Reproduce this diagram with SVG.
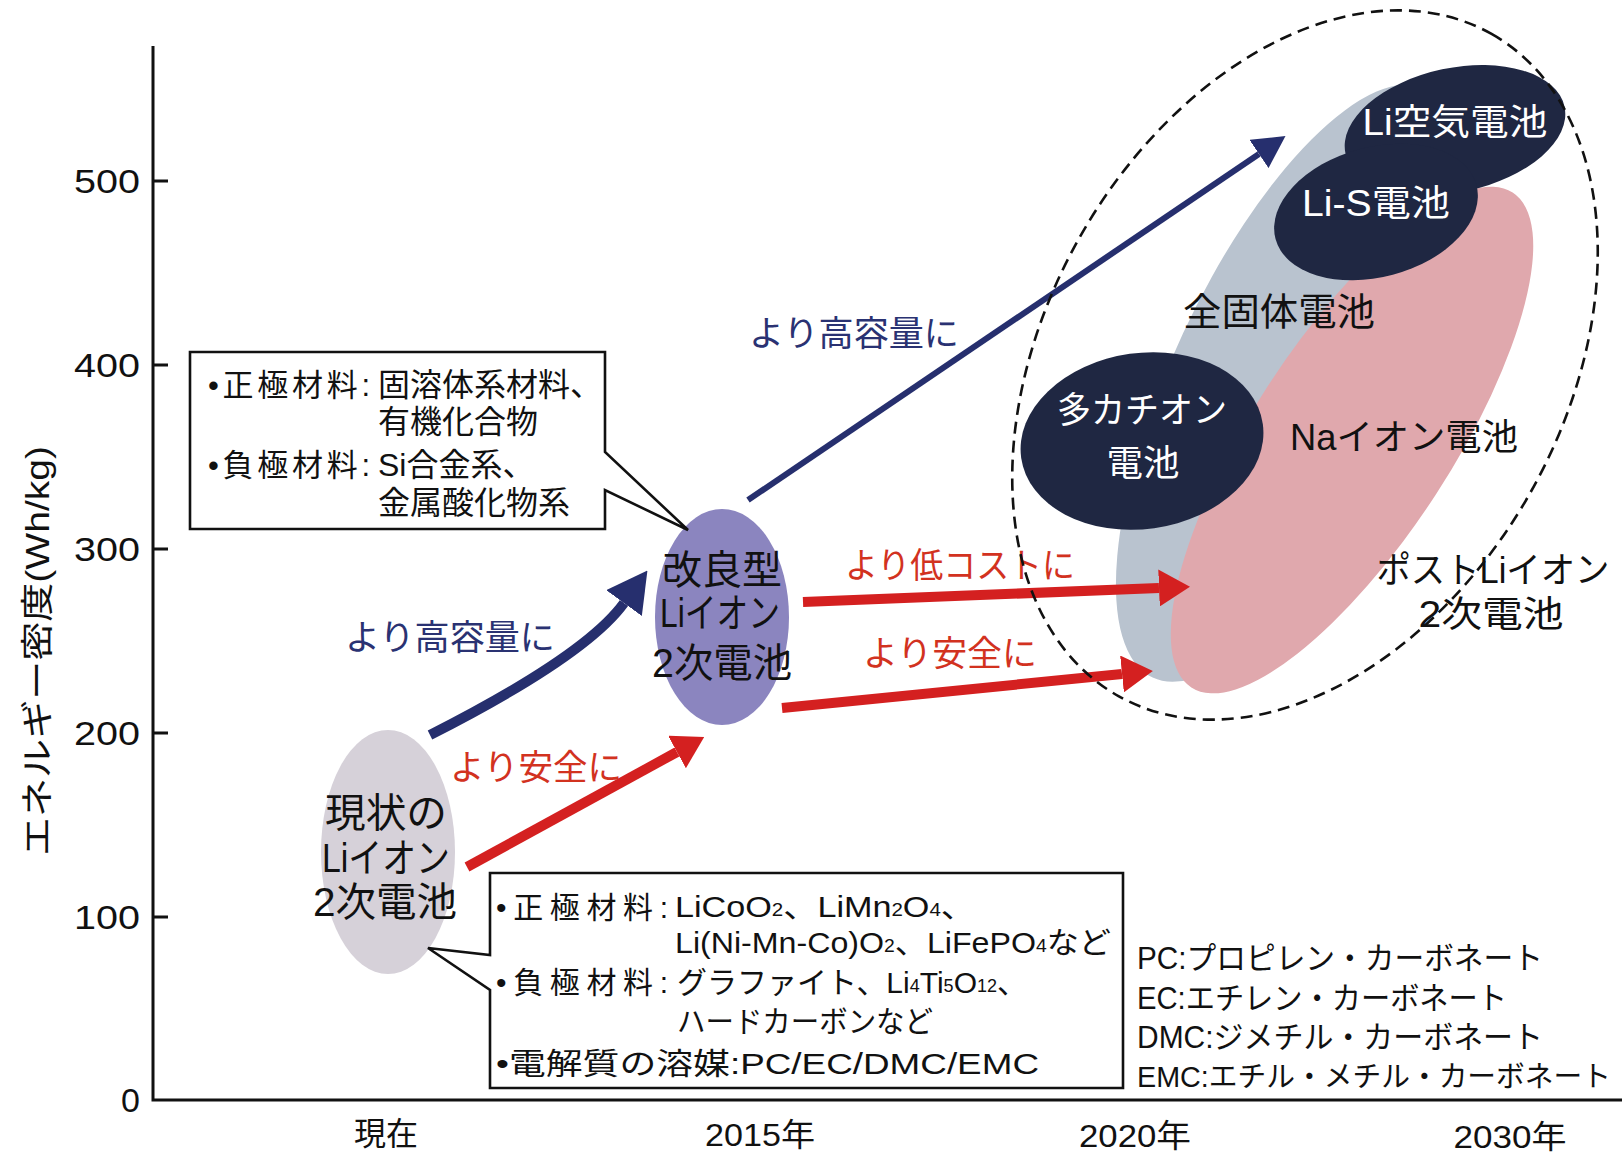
<svg xmlns="http://www.w3.org/2000/svg" width="1624" height="1157" viewBox="0 0 1624 1157">
<style>
.t{font-family:'Liberation Sans','Noto Sans CJK JP',sans-serif;dominant-baseline:central}
.m{text-anchor:middle}
.ax{stroke:#111;stroke-width:3;fill:none}
.box{fill:#fff;stroke:#111;stroke-width:2.6}
.navy{fill:#2a3272}
.red{fill:#d2321f}
.wt{fill:#fff}
.bk{fill:#111}
.lineN{stroke:#262f6e;fill:none}
.lineR{stroke:#d42020;stroke-width:10;fill:none}
</style>
<defs>
<marker id="ahNavyL" markerUnits="userSpaceOnUse" viewBox="0 0 40 44" markerWidth="40" markerHeight="44" refX="0" refY="22" orient="auto"><path d="M0,0 L40,22 L0,44 Z" fill="#262f6e"/></marker>
<marker id="ahNavyS" markerUnits="userSpaceOnUse" viewBox="0 0 32 34" markerWidth="32" markerHeight="34" refX="0" refY="17" orient="auto"><path d="M0,0 L32,17 L0,34 Z" fill="#262f6e"/></marker>
<marker id="ahRed" markerUnits="userSpaceOnUse" viewBox="0 0 31 37" markerWidth="31" markerHeight="37" refX="0" refY="18.5" orient="auto"><path d="M0,0 L31,18.5 L0,37 Z" fill="#d42020"/></marker>
</defs>
<rect width="1624" height="1157" fill="#fff"/>

<g id="axes">
<path class="ax" d="M153,46 V1100 H1622"/>
<path class="ax" d="M153,181 H168 M153,365 H168 M153,549 H168 M153,733 H168 M153,917 H168"/>
<g class="t" font-size="34" text-anchor="end" fill="#111">
<text x="140" y="181" textLength="66" lengthAdjust="spacingAndGlyphs">500</text>
<text x="140" y="365" textLength="66" lengthAdjust="spacingAndGlyphs">400</text>
<text x="140" y="549" textLength="66" lengthAdjust="spacingAndGlyphs">300</text>
<text x="140" y="733" textLength="66" lengthAdjust="spacingAndGlyphs">200</text>
<text x="140" y="917" textLength="66" lengthAdjust="spacingAndGlyphs">100</text>
<text x="140" y="1100">0</text>
</g>
<text class="t m bk" font-size="33" transform="translate(37,651) rotate(-90)" textLength="410" lengthAdjust="spacingAndGlyphs">エネルギー密度(Wh/kg)</text>
<text class="t m bk" font-size="32" x="386" y="1134">現在</text>
<text class="t m bk" font-size="32" x="760" y="1135" textLength="110" lengthAdjust="spacingAndGlyphs">2015年</text>
<text class="t m bk" font-size="32" x="1135" y="1136" textLength="112" lengthAdjust="spacingAndGlyphs">2020年</text>
<text class="t m bk" font-size="32" x="1510" y="1137" textLength="113" lengthAdjust="spacingAndGlyphs">2030年</text>
</g>

<g id="n-allsolid">
<ellipse cx="1290" cy="383" rx="325" ry="118" transform="rotate(-65 1290 383)" fill="#b9c3cf"/>
</g>
<g id="n-na">
<ellipse cx="1352" cy="440" rx="295" ry="100" transform="rotate(-57 1352 440)" fill="#e0a8ad"/>
</g>
<g id="n-liair">
<ellipse cx="1455" cy="130" rx="112" ry="62" transform="rotate(-12 1455 130)" fill="#1f2742"/>
<text class="t m wt" font-size="36" x="1455" y="122" textLength="185" lengthAdjust="spacingAndGlyphs">Li空気電池</text>
</g>
<g id="n-lis">
<ellipse cx="1376" cy="212" rx="104" ry="65" transform="rotate(-15 1376 212)" fill="#1f2742"/>
<text class="t m wt" font-size="36" x="1376" y="203" textLength="148" lengthAdjust="spacingAndGlyphs">Li-S電池</text>
</g>
<g id="n-multi">
<ellipse cx="1142" cy="441" rx="122" ry="88" transform="rotate(-8 1142 441)" fill="#1f2742"/>
<text class="t m wt" font-size="36" x="1142" y="410" textLength="170" lengthAdjust="spacingAndGlyphs">多カチオン</text>
<text class="t m wt" font-size="36" x="1143" y="463" textLength="73" lengthAdjust="spacingAndGlyphs">電池</text>
</g>
<g id="labels-post">
<text class="t m bk" font-size="38" x="1279" y="312" textLength="192" lengthAdjust="spacingAndGlyphs">全固体電池</text>
<text class="t m bk" font-size="36" x="1404" y="437" textLength="228" lengthAdjust="spacingAndGlyphs">Naイオン電池</text>
</g>

<g id="n-current">
<ellipse cx="388" cy="852" rx="67" ry="122" fill="#d6d1d9"/>
<text class="t m bk" font-size="40" x="386" y="813" textLength="122" lengthAdjust="spacingAndGlyphs">現状の</text>
<text class="t m bk" font-size="40" x="386" y="858" textLength="128" lengthAdjust="spacingAndGlyphs">Liイオン</text>
<text class="t m bk" font-size="40" x="385" y="902" textLength="144" lengthAdjust="spacingAndGlyphs">2次電池</text>
</g>

<g id="n-improved">
<ellipse cx="722" cy="617" rx="67" ry="108" fill="#8b85bf"/>
<text class="t m bk" font-size="40" x="722" y="570" textLength="120" lengthAdjust="spacingAndGlyphs">改良型</text>
<text class="t m bk" font-size="40" x="720" y="613" textLength="120" lengthAdjust="spacingAndGlyphs">Liイオン</text>
<text class="t m bk" font-size="40" x="722" y="663" textLength="140" lengthAdjust="spacingAndGlyphs">2次電池</text>
</g>

<g id="connectors">
<path class="lineN" stroke-width="10" d="M430,735 C495,702 590,650 624,603" marker-end="url(#ahNavyL)"/>
<path class="lineN" stroke-width="6" d="M748,500 L1259,154" marker-end="url(#ahNavyS)"/>
<path class="lineR" d="M467,867 L677,752" marker-end="url(#ahRed)"/>
<path class="lineR" d="M803,602 L1159,588" marker-end="url(#ahRed)"/>
<path class="lineR" d="M782,708 L1122,674" marker-end="url(#ahRed)"/>
<g class="t m" font-size="35">
<text class="navy" x="450" y="637" textLength="210" lengthAdjust="spacingAndGlyphs">より高容量に</text>
<text class="red" x="536" y="767" textLength="172" lengthAdjust="spacingAndGlyphs">より安全に</text>
<text class="navy" x="854" y="333" textLength="210" lengthAdjust="spacingAndGlyphs">より高容量に</text>
<text class="red" x="960" y="565" textLength="230" lengthAdjust="spacingAndGlyphs">より低コストに</text>
<text class="red" x="950" y="653" textLength="174" lengthAdjust="spacingAndGlyphs">より安全に</text>
</g>
</g>

<g id="n-post">
<ellipse cx="1305" cy="365" rx="380" ry="259" transform="rotate(-60.6 1305 365)" fill="none" stroke="#111" stroke-width="2.6" stroke-dasharray="12 7"/>
<text class="t m bk" font-size="36" x="1493" y="570" textLength="233" lengthAdjust="spacingAndGlyphs">ポストLiイオン</text>
<text class="t m bk" font-size="36" x="1491" y="614" textLength="145" lengthAdjust="spacingAndGlyphs">2次電池</text>
</g>

<g id="box-top">
<path class="box" d="M190,352 H605 V452 L688,530 L605,490 V529 H190 Z"/>
<g class="t bk" font-size="31">
<text x="208" y="385" textLength="162" lengthAdjust="spacing">•正極材料:</text>
<text x="378" y="385" font-size="32">固溶体系材料、</text>
<text x="378" y="422" font-size="32">有機化合物</text>
<text x="208" y="465" textLength="162" lengthAdjust="spacing">•負極材料:</text>
<text x="378" y="465" font-size="32">Si合金系、</text>
<text x="378" y="503" font-size="32">金属酸化物系</text>
</g>
</g>

<g id="box-bottom">
<path class="box" d="M490,873 H1123 V1088 H490 V990 L428,948 L490,955 Z"/>
<g class="t bk" font-size="30">
<text x="496" y="907" textLength="172" lengthAdjust="spacing">•正極材料:</text>
<text x="675" y="906" textLength="300" lengthAdjust="spacingAndGlyphs">LiCoO<tspan font-size="18" dy="4">2</tspan><tspan dy="-4">、LiMn</tspan><tspan font-size="18" dy="4">2</tspan><tspan dy="-4">O</tspan><tspan font-size="18" dy="4">4</tspan><tspan dy="-4">、</tspan></text>
<text x="675" y="942" textLength="436" lengthAdjust="spacingAndGlyphs">Li(Ni-Mn-Co)O<tspan font-size="18" dy="4">2</tspan><tspan dy="-4">、LiFePO</tspan><tspan font-size="18" dy="4">4</tspan><tspan dy="-4">など</tspan></text>
<text x="496" y="982" textLength="172" lengthAdjust="spacing">•負極材料:</text>
<text x="677" y="982" textLength="350" lengthAdjust="spacingAndGlyphs">グラファイト、Li<tspan font-size="18" dy="4">4</tspan><tspan dy="-4">Ti</tspan><tspan font-size="18" dy="4">5</tspan><tspan dy="-4">O</tspan><tspan font-size="18" dy="4">12</tspan><tspan dy="-4">、</tspan></text>
<text x="677" y="1021" textLength="256" lengthAdjust="spacingAndGlyphs">ハードカーボンなど</text>
<text x="496" y="1063" textLength="543" lengthAdjust="spacingAndGlyphs">•電解質の溶媒:PC/EC/DMC/EMC</text>
</g>
</g>

<g id="legend" class="t bk" font-size="31">
<text x="1137" y="958" textLength="406" lengthAdjust="spacingAndGlyphs">PC:プロピレン・カーボネート</text>
<text x="1137" y="998" textLength="370" lengthAdjust="spacingAndGlyphs">EC:エチレン・カーボネート</text>
<text x="1137" y="1037" textLength="406" lengthAdjust="spacingAndGlyphs">DMC:ジメチル・カーボネート</text>
<text x="1137" y="1077" font-size="29" textLength="474" lengthAdjust="spacingAndGlyphs">EMC:エチル・メチル・カーボネート</text>
</g>
</svg>
